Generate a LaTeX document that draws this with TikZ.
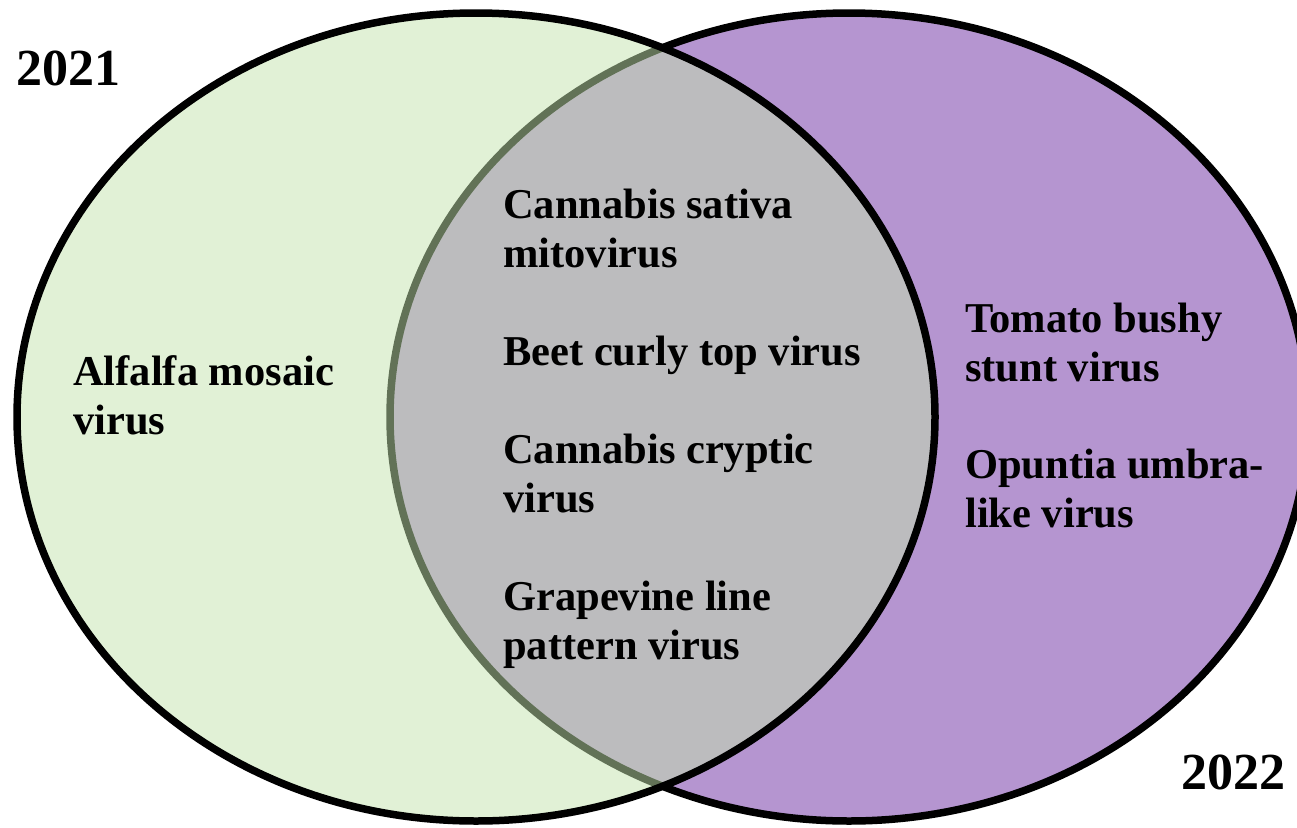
\documentclass[tikz,border=0pt]{standalone}
\usepackage{fontspec}
\setmainfont{Liberation Serif}
\definecolor{setgreen}{RGB}{196,228,174}
\definecolor{setpurple}{RGB}{181,149,208}
\begin{document}
\begin{tikzpicture}[x=1pt,y=-1pt,
  setline/.style={line width=7.5pt, draw=black},
  label/.style={anchor=north west, inner sep=0pt, align=left,
    font=\fontsize{42.5}{49}\selectfont\bfseries},
  yearlabel/.style={anchor=base west, inner sep=0pt,
    font=\fontsize{52}{60}\selectfont\bfseries}]
\useasboundingbox (0,0) rectangle (1297,827);
\clip (0,0) rectangle (1297,827);
% 2022 set (drawn first)
\fill[setpurple] (849,417) ellipse [x radius=459pt, y radius=404pt];
\draw[setline] (849,417) ellipse [x radius=459pt, y radius=404pt];
% 2021 set, semi-transparent fill over it
\fill[setgreen, fill opacity=0.5] (476,417) ellipse [x radius=459pt, y radius=404pt];
\draw[setline] (476,417) ellipse [x radius=459pt, y radius=404pt];
% year labels
\node[yearlabel] (y2021) at (16,85) {2021};
\node[yearlabel] (y2022) at (1181,789) {2022};
% 2021 only
\node[label] (alfalfa) at (73,350.5) {\strut Alfalfa mosaic\\\strut virus};
% shared
\node[label] (csm) at (503,184) {\strut Cannabis sativa\\\strut mitovirus};
\node[label] (bct) at (503,331) {\strut Beet curly top virus};
\node[label] (ccv) at (503,429) {\strut Cannabis cryptic\\\strut virus};
\node[label] (glp) at (503,576) {\strut Grapevine line\\\strut pattern virus};
% 2022 only
\node[label] (tbs) at (965,298) {\strut Tomato bushy\\\strut stunt virus};
\node[label] (ouv) at (965,444) {\strut Opuntia umbra-\\\strut like virus};
\end{tikzpicture}
\end{document}
